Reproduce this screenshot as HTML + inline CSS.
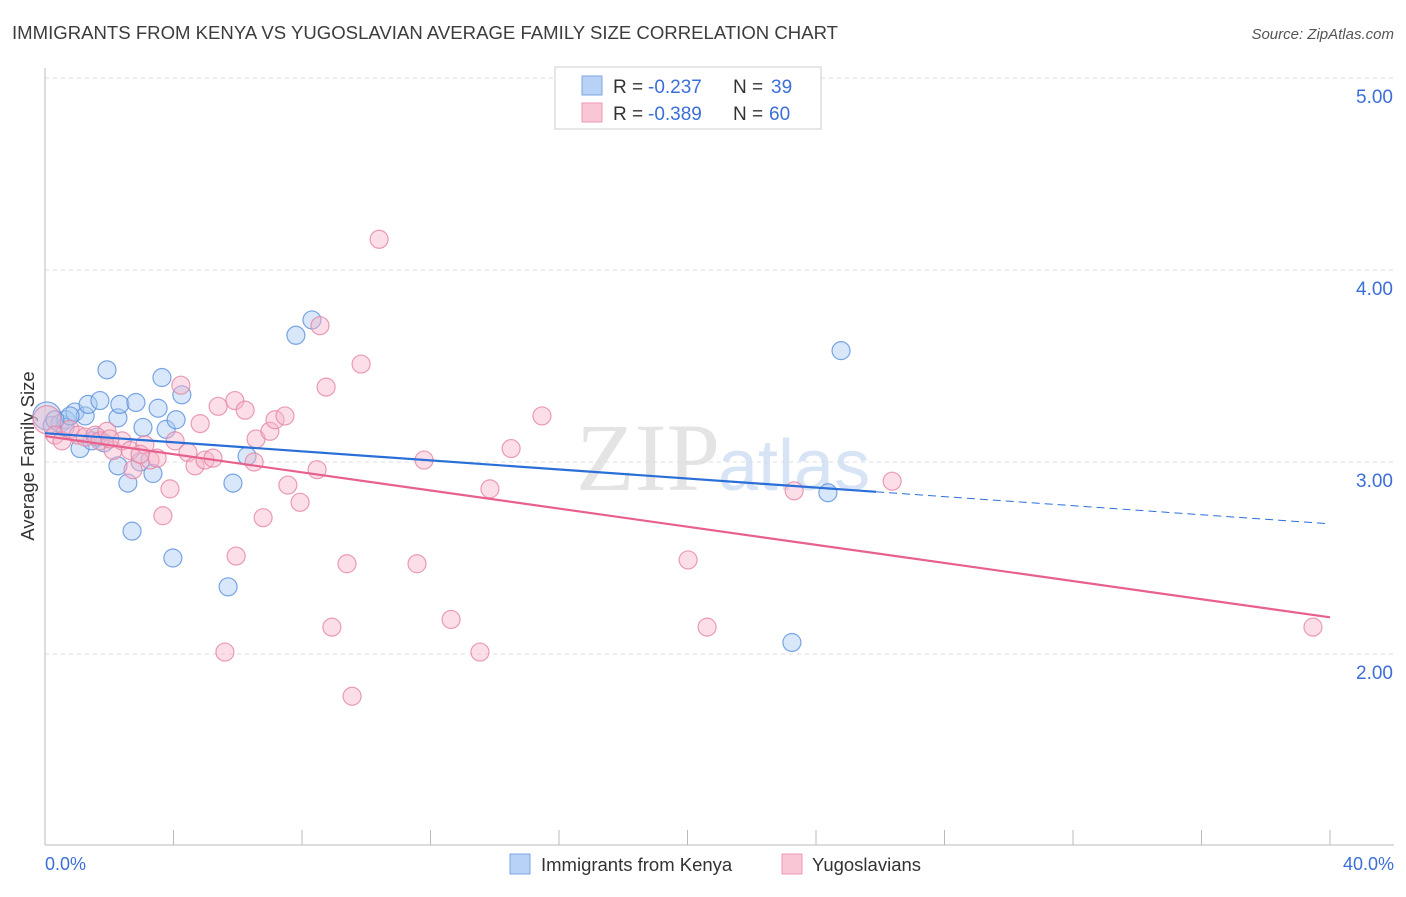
<!DOCTYPE html>
<html><head><meta charset="utf-8"><style>
body{margin:0;background:#fff;font-family:"Liberation Sans",sans-serif;}
</style></head><body>
<svg id="chart" width="1406" height="892" xmlns="http://www.w3.org/2000/svg" font-family="Liberation Sans, sans-serif">
<text x="12" y="39" font-size="18" fill="#3c3c3c" textLength="826" lengthAdjust="spacingAndGlyphs">IMMIGRANTS FROM KENYA VS YUGOSLAVIAN AVERAGE FAMILY SIZE CORRELATION CHART</text>
<text x="1394" y="39" font-size="15" fill="#555" font-style="italic" text-anchor="end">Source: ZipAtlas.com</text>
<text x="720" y="490" font-size="96" fill="#e4e4e4" text-anchor="end" font-family="Liberation Serif, serif">ZIP</text>
<text x="718" y="490" font-size="72" fill="#d6e4f5">atlas</text>
<text transform="translate(34,456) rotate(-90)" font-size="18.5" fill="#333" text-anchor="middle">Average Family Size</text>
<g id="grid"></g><g id="axes"></g><g id="marks"></g>
<g>
<rect x="555" y="67" width="266" height="62" fill="#fff" stroke="#ccc"/>
<rect x="582" y="76" width="20" height="19" fill="#b7d2f5" stroke="#7aa6e2"/>
<rect x="582" y="103" width="20" height="19" fill="#f9c6d6" stroke="#ec98b4"/>
<text x="613" y="93" font-size="19" fill="#333">R =</text>
<text x="648" y="93" font-size="19" fill="#3b6fd8">-0.237</text>
<text x="733" y="93" font-size="19" fill="#333">N =</text>
<text x="771" y="93" font-size="19" fill="#3b6fd8">39</text>
<text x="613" y="120" font-size="19" fill="#333">R =</text>
<text x="648" y="120" font-size="19" fill="#3b6fd8">-0.389</text>
<text x="733" y="120" font-size="19" fill="#333">N =</text>
<text x="769" y="120" font-size="19" fill="#3b6fd8">60</text>
</g>
<g>
<rect x="510" y="854" width="20" height="20" fill="#b7d2f5" stroke="#7aa6e2"/>
<text x="541" y="871" font-size="18.5" fill="#333">Immigrants from Kenya</text>
<rect x="782" y="854" width="20" height="20" fill="#f9c6d6" stroke="#ec98b4"/>
<text x="812" y="871" font-size="18.5" fill="#333">Yugoslavians</text>
</g>
</svg>
<script>
const kenyaX=[0.06,0.22,0.47,0.65,0.93,1.09,1.25,1.34,1.46,1.71,1.84,1.93,2.27,2.33,2.27,2.58,2.71,2.83,2.96,3.05,3.36,3.52,3.64,3.77,3.98,4.08,4.26,5.70,5.85,6.29,7.81,8.31,24.37,24.78,23.25,0.62,0.78,0.31,1.62];
const kenyaY=[3.24,3.19,3.20,3.22,3.26,3.07,3.24,3.30,3.11,3.32,3.10,3.48,3.23,3.30,2.98,2.89,2.64,3.31,3.00,3.18,2.94,3.28,3.44,3.17,2.50,3.22,3.35,2.35,2.89,3.03,3.66,3.74,2.84,3.58,2.06,3.18,3.24,3.22,3.13];
const yugoX=[0.06,0.31,0.53,0.78,1.03,1.25,1.56,1.71,1.93,2.12,2.40,2.65,2.74,3.11,3.27,3.49,3.67,3.89,4.05,4.23,4.45,4.67,4.83,4.98,5.23,5.39,5.60,5.91,5.95,6.23,6.51,6.57,6.79,7.00,7.16,7.47,7.56,7.94,8.47,8.56,8.75,8.93,9.40,9.56,9.84,10.40,11.58,11.80,12.64,13.54,13.85,14.51,15.47,20.02,20.61,23.32,26.37,39.47,2.96,2.02];
const yugoY=[3.22,3.14,3.11,3.17,3.14,3.13,3.14,3.11,3.16,3.06,3.11,3.06,2.96,3.09,3.01,3.02,2.72,2.86,3.11,3.40,3.05,2.98,3.20,3.01,3.02,3.29,2.01,3.32,2.51,3.27,3.00,3.12,2.71,3.16,3.22,3.24,2.88,2.79,2.96,3.71,3.39,2.14,2.47,1.78,3.51,4.16,2.47,3.01,2.18,2.01,2.86,3.07,3.24,2.49,2.14,2.85,2.90,2.14,3.04,3.12];
const kenyaFit=[3.15,-0.0118];
const yugoFit=[3.135,-0.0236];
const yTicks=[5,4,3,2];
const yTickLabels=["5.00","4.00","3.00","2.00"];
const xTicks=[0,4,8,12,16,20,24,28,32,36,40];
const xEndLabels=["0.0%","40.0%"];
const NS="http://www.w3.org/2000/svg";
const sx=v=>45+v/40*1285, sy=v=>78+(5-v)*192;
function mk(t,a,p){const e=document.createElementNS(NS,t);for(const k in a)e.setAttribute(k,a[k]);p.appendChild(e);return e;}
const grid=document.getElementById('grid'),axes=document.getElementById('axes'),marks=document.getElementById('marks');
yTicks.forEach((v,i)=>{
 const l=mk('line',{x1:45,x2:1394,y1:sy(v),y2:sy(v),stroke:'#ddd','stroke-dasharray':'4,4'},grid);
 
 
 const t=mk('text',{x:1393,y:sy(v)+25,'font-size':19,fill:'#3b6fd8','text-anchor':'end'},axes);t.textContent=yTickLabels[i];
 
 
});
mk('line',{x1:45,x2:45,y1:68,y2:845,stroke:'#bbb'},axes);
mk('line',{x1:45,x2:1394,y1:845,y2:845,stroke:'#bbb'},axes);
xTicks.forEach(v=>{const t=mk('line',{x1:sx(v),x2:sx(v),y1:830,y2:845,stroke:'#bbb'},axes);
 
 });
[[0,'start',45],[1,'end',1394]].forEach(([i,a,x])=>{const t=mk('text',{x:x,y:870,'font-size':18,fill:'#3b6fd8','text-anchor':a},axes);t.textContent=xEndLabels[i];
 
 });
function dots(X,Y,fill,stroke,name){X.forEach((x,i)=>{const c=mk('circle',{cx:sx(x),cy:sy(Y[i]),r:i==0?14:9,fill:fill,'fill-opacity':0.45,stroke:stroke,'stroke-opacity':0.8,'stroke-width':1.2},marks);
 
 });}
dots(kenyaX,kenyaY,'#a9c9f2','#5b90dc','kenya-point');
dots(yugoX,yugoY,'#f6b6ca','#e584a5','yugoslavian-point');
const kEnd=25.87;
let l=mk('line',{x1:sx(0),y1:sy(kenyaFit[0]),x2:sx(kEnd),y2:sy(kenyaFit[0]+kenyaFit[1]*kEnd),stroke:'#2a6fd8','stroke-width':2.2},marks);


l=mk('line',{x1:sx(kEnd),y1:sy(kenyaFit[0]+kenyaFit[1]*kEnd),x2:sx(39.94),y2:sy(kenyaFit[0]+kenyaFit[1]*39.94),stroke:'#2a6fd8','stroke-width':1,'stroke-dasharray':'8,5'},marks);


l=mk('line',{x1:sx(0),y1:sy(yugoFit[0]),x2:sx(40),y2:sy(yugoFit[0]+yugoFit[1]*40),stroke:'#e8608c','stroke-width':2.2},marks);


</script>
</body></html>
